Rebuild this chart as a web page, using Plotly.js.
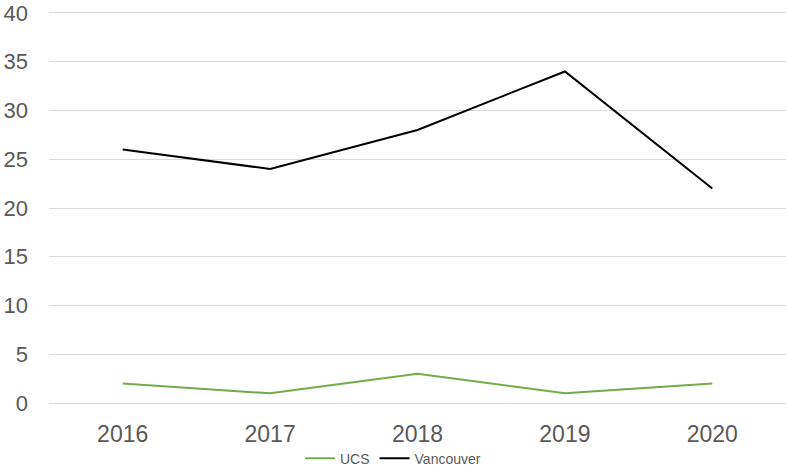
<!DOCTYPE html>
<html><head><meta charset="utf-8">
<script src="https://cdn.plot.ly/plotly-3.0.1.min.js"></script>
<style>html,body{margin:0;padding:0;background:#fff}#c{width:786px;height:467px}</style>
</head><body><div id="c"></div>
<script>
const years = ["2016","2017","2018","2019","2020"];
const ucs = [2, 1, 3, 1, 2];
const vancouver = [26, 24, 28, 34, 22];
const yTicks = [0,5,10,15,20,25,30,35,40];

const traces = [
  {x: years, y: ucs, name: "UCS", type: "scatter", mode: "lines", line: {color: "#70ad47", width: 2}},
  {x: years, y: vancouver, name: "Vancouver", type: "scatter", mode: "lines", line: {color: "#000000", width: 2}}
];
const layout = {
  width: 786, height: 467,
  margin: {l: 49, r: 0, t: 10, b: 61},
  paper_bgcolor: "#fff", plot_bgcolor: "#fff",
  font: {family: "Liberation Sans, Arial, sans-serif", color: "#595959"},
  xaxis: {type: "category", range: [-0.5, 4.5], showgrid: false, zeroline: false, showline: false,
    tickfont: {size: 23, color: "#595959"}, ticks: "", ticklabelstandoff: 12, automargin: false},
  yaxis: {range: [-0.3, 40.3], tickvals: yTicks, showgrid: true, gridcolor: "#d9d9d9", gridwidth: 1,
    zeroline: false, showline: false, ticks: "", tickfont: {size: 22, color: "#595959"}, ticklabelstandoff: 20,
    automargin: false, ticklabeloverflow: "allow"},
  showlegend: true,
  legend: {orientation: "h", x: 0.5, xanchor: "center", xref: "container", yref: "container", y: 0.018, yanchor: "middle",
    font: {size: 14, color: "#595959"}, itemwidth: 30, tracegroupgap: 0, traceorder: "normal"}
};
Plotly.newPlot("c", traces, layout, {displayModeBar: false, staticPlot: true});
</script></body></html>
